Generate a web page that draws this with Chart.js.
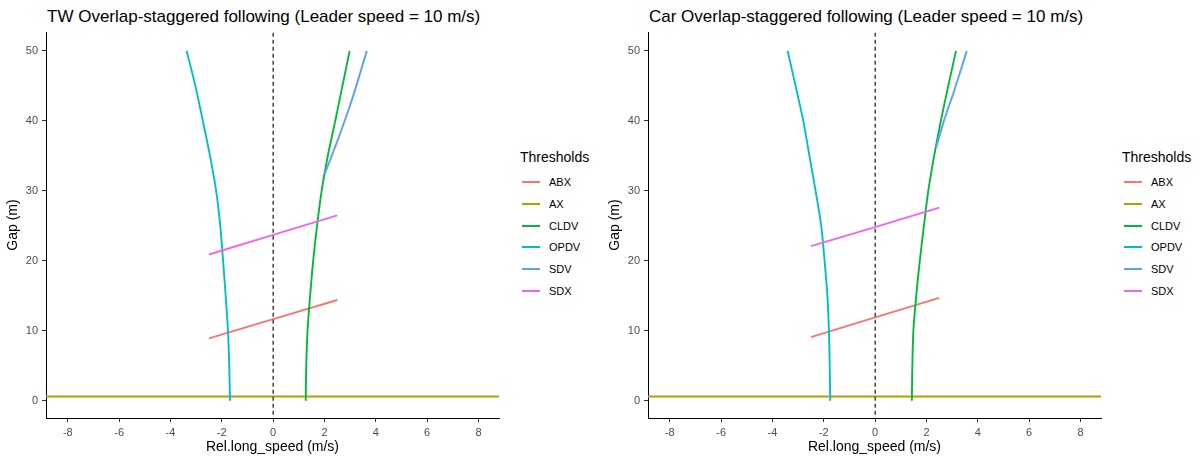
<!DOCTYPE html>
<html>
<head>
<meta charset="utf-8">
<script src="https://cdn.jsdelivr.net/npm/chart.js@4/dist/chart.umd.min.js"></script>
<style>
  body { margin:0; width:1198px; height:458px; position:relative; background:#fff; overflow:hidden;
         font-family:'Liberation Sans', Arial, sans-serif; }
  canvas { position:absolute; top:0; }
  .title { position:absolute; top:8px; font-size:17px; line-height:17px; color:#000; white-space:nowrap; }
  .legend { position:absolute; top:0; width:80px; height:458px; }
  .ltitle { position:absolute; left:0; top:150px; font-size:14px; line-height:14px; color:#000; }
  .key { position:absolute; left:2px; width:18px; height:2px; }
  .ltext { position:absolute; left:29px; font-size:11px; line-height:12px; color:#000; }
</style>
</head>
<body>
<div class="title" style="left:47px">TW Overlap-staggered following (Leader speed = 10 m/s)</div>
<div class="title" style="left:649px">Car Overlap-staggered following (Leader speed = 10 m/s)</div>
<canvas id="c1" width="505" height="458" style="left:0px"></canvas>
<canvas id="c2" width="505" height="458" style="left:602px"></canvas>
<div class="legend" id="leg1" style="left:520px"></div>
<div class="legend" id="leg2" style="left:1122px"></div>
<script>
// ---------- data ----------
const thresholds = ['ABX', 'AX', 'CLDV', 'OPDV', 'SDV', 'SDX'];
const thresholdColors = ['#F8766D', '#B79F00', '#00BA38', '#00BFC4', '#619CFF', '#F564E3'];

const xTicks = [-8, -6, -4, -2, 0, 2, 4, 6, 8];
const yTicks = [0, 10, 20, 30, 40, 50];

// gap levels (m) for the OPDV / CLDV curves
const gapLevels = [0, 5, 10, 15, 20, 25, 30, 35, 40, 45, 50];
// rel. speed points (m/s) for ABX / SDX lines
const relSpeedPts = [-2.5, 0, 2.5];
const axSpeedPts = [-10, 10];

// TW panel
const twOPDV = [-1.68, -1.71, -1.76, -1.85, -1.95, -2.06, -2.22, -2.46, -2.74, -3.03, -3.37];
const twCLDV = [1.27, 1.29, 1.34, 1.44, 1.56, 1.71, 1.89, 2.13, 2.42, 2.70, 2.98];
const twSDVGap = [32.4, 37.1, 41.8, 45, 50];
const twSDV = [2.01, 2.50, 2.96, 3.24, 3.65];
const twABX = [8.9, 11.65, 14.4];
const twSDX = [20.9, 23.7, 26.5];
const twAX = 0.6;

// Car panel
const carOPDV = [-1.75, -1.77, -1.80, -1.86, -1.97, -2.10, -2.32, -2.56, -2.80, -3.10, -3.41];
const carCLDV = [1.43, 1.45, 1.49, 1.60, 1.74, 1.90, 2.07, 2.30, 2.56, 2.85, 3.15];
const carSDVGap = [36.2, 40, 44.2, 50];
const carSDV = [2.38, 2.68, 3.07, 3.57];
const carABX = [9.1, 11.9, 14.7];
const carSDX = [22.1, 24.8, 27.6];
const carAX = 0.6;

const xRange = [-8.85, 8.8];
const yRange = [-2.47, 52.7];

// ---------- helpers ----------
const pts = (xs, ys) => xs.map((x, i) => ({x: x, y: ys[i]}));
const curved = { CLDV: true, OPDV: true, SDV: true };

function buildDatasets(p) {
  const series = {
    ABX: pts(relSpeedPts, p.abx),
    AX: pts(axSpeedPts, axSpeedPts.map(() => p.ax)),
    CLDV: pts(p.cldv, gapLevels),
    OPDV: pts(p.opdv, gapLevels),
    SDV: pts(p.sdv, p.sdvGap),
    SDX: pts(relSpeedPts, p.sdx)
  };
  const ds = thresholds.map((name, i) => ({
    label: name,
    data: series[name],
    borderColor: thresholdColors[i],
    backgroundColor: thresholdColors[i],
    borderWidth: 1.9,
    showLine: true,
    pointRadius: 0,
    tension: curved[name] ? 0.3 : 0,
    clip: 0,
    order: thresholds.length - i + 1
  }));
  ds.push({
    label: 'zero',
    data: [{x: 0, y: -10}, {x: 0, y: 70}],
    borderColor: '#000',
    borderWidth: 1.1,
    borderDash: [4, 3],
    showLine: true,
    pointRadius: 0,
    clip: 0,
    order: 0
  });
  return ds;
}

function makeChart(id, p) {
  return new Chart(document.getElementById(id), {
    type: 'scatter',
    data: { datasets: buildDatasets(p) },
    options: {
      responsive: false,
      animation: false,
      devicePixelRatio: 1,
      layout: { padding: { left: 0, right: 6, top: 32, bottom: 0 } },
      plugins: { legend: { display: false }, tooltip: { enabled: false }, title: { display: false } },
      scales: {
        x: {
          type: 'linear', min: xRange[0], max: xRange[1],
          afterBuildTicks: s => { s.ticks = xTicks.map(v => ({value: v})); },
          afterFit: s => { s.height = 40; },
          ticks: { font: { family: "'Liberation Sans', Arial", size: 11 }, color: '#4D4D4D', padding: 4, maxRotation: 0,
                   callback: v => String(v) },
          grid: { drawOnChartArea: false, drawTicks: true, tickLength: 4, color: '#333333', tickWidth: 1 },
          border: { display: true, color: '#000', width: 1 },
          title: { display: true, text: 'Rel.long_speed (m/s)', color: '#000',
                   font: { family: "'Liberation Sans', Arial", size: 14 }, padding: { top: 0, bottom: 2 } }
        },
        y: {
          type: 'linear', min: yRange[0], max: yRange[1],
          afterBuildTicks: s => { s.ticks = yTicks.map(v => ({value: v})); },
          afterFit: s => { s.width = 46; },
          ticks: { font: { family: "'Liberation Sans', Arial", size: 11 }, color: '#4D4D4D', padding: 4,
                   callback: v => String(v) },
          grid: { drawOnChartArea: false, drawTicks: true, tickLength: 4, color: '#333333', tickWidth: 1 },
          border: { display: true, color: '#000', width: 1 },
          title: { display: true, text: 'Gap (m)', color: '#000',
                   font: { family: "'Liberation Sans', Arial", size: 14 }, padding: { top: 5, bottom: 0 } }
        }
      }
    }
  });
}

function makeLegend(id) {
  const el = document.getElementById(id);
  let html = '<div class="ltitle">Thresholds</div>';
  thresholds.forEach((name, i) => {
    const cy = 182.3 + i * 21.7;
    html += '<div class="key" style="top:' + (cy - 1) + 'px;background:' + thresholdColors[i] + '"></div>';
    html += '<div class="ltext" style="top:' + (cy - 6) + 'px">' + name + '</div>';
  });
  el.innerHTML = html;
}

makeChart('c1', { opdv: twOPDV, cldv: twCLDV, sdv: twSDV, sdvGap: twSDVGap, abx: twABX, sdx: twSDX, ax: twAX });
makeChart('c2', { opdv: carOPDV, cldv: carCLDV, sdv: carSDV, sdvGap: carSDVGap, abx: carABX, sdx: carSDX, ax: carAX });
makeLegend('leg1');
makeLegend('leg2');
</script>
</body>
</html>
